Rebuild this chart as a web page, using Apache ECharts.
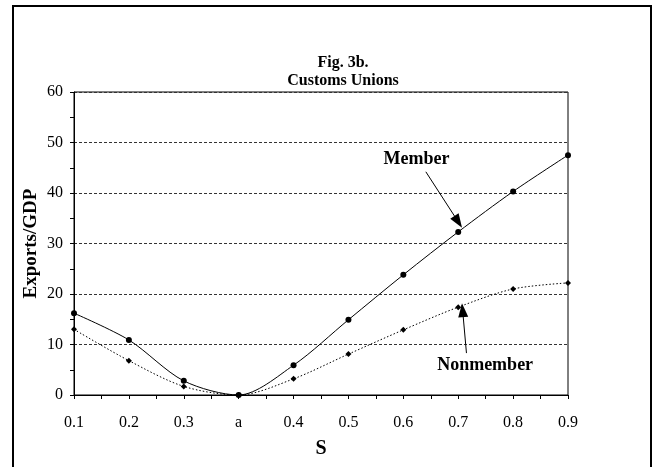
<!DOCTYPE html>
<html>
<head>
<meta charset="utf-8">
<script src="https://cdn.jsdelivr.net/npm/echarts@6/dist/echarts.min.js"></script>
<style>
  html, body { margin: 0; padding: 0; background: #fff; }
  #chart { width: 653px; height: 467px; }
</style>
</head>
<body>
<div id="chart"></div>
<script>
// x categories (S), with the "a" point between 0.3 and 0.4
const xLabels = ['0.1', '0.2', '0.3', 'a', '0.4', '0.5', '0.6', '0.7', '0.8', '0.9'];
const memberValues = [16.2, 10.9, 2.8, 0, 5.9, 14.9, 23.8, 32.3, 40.3, 47.5];
const nonmemberValues = [13.0, 6.8, 1.7, 0, 3.2, 8.1, 12.9, 17.4, 21.0, 22.2];

// annotation anchors, in data units (x = category index, y = Exports/GDP)
const memberArrow = [[6.41, 44.2], [7.0, 34.3]];
const nonmemberArrow = [[7.15, 8.3], [7.08, 16.8]];
const memberLabelAt = [6.24, 46.7];
const nonmemberLabelAt = [7.49, 5.9];

const FONT = 'Liberation Serif';

const toPairs = (vals) => vals.map((v, i) => [i, v]);

const arrowLine = (from, to) => ({
  silent: true,
  symbol: ['none', 'triangle'],
  symbolSize: [10, 14],
  lineStyle: { color: '#000', width: 1, type: 'solid' },
  label: { show: false },
  data: [[{ coord: from }, { coord: to }]]
});

const textPoint = (at, text) => ({
  silent: true,
  symbol: 'circle',
  symbolSize: 0,
  label: {
    show: true,
    position: 'inside',
    formatter: text,
    color: '#000',
    fontFamily: FONT,
    fontWeight: 'bold',
    fontSize: 18
  },
  data: [{ coord: at }]
});

const chart = echarts.init(document.getElementById('chart'));
chart.setOption({
  animation: false,
  backgroundColor: '#fff',
  title: {
    text: 'Fig. 3b.\nCustoms Unions',
    left: 338,
    top: 49,
    textAlign: 'center',
    textStyle: {
      fontFamily: FONT,
      fontWeight: 'bold',
      fontSize: 16,
      lineHeight: 18,
      color: '#000'
    }
  },
  graphic: [{
    type: 'rect',
    shape: { x: 13, y: 6, width: 638, height: 480 },
    style: { fill: 'none', stroke: '#000', lineWidth: 2 },
    silent: true
  }],
  grid: {
    left: 74, right: 85, top: 92, bottom: 72,
    show: true,
    borderColor: '#000',
    borderWidth: 1
  },
  xAxis: {
    type: 'value',
    min: 0,
    max: xLabels.length - 1,
    interval: 1,
    name: 'S',
    nameLocation: 'middle',
    nameGap: 44,
    nameMoveOverlap: false,
    nameTextStyle: { fontFamily: FONT, fontWeight: 'bold', fontSize: 20, color: '#000' },
    axisLine: { lineStyle: { color: '#000', width: 1 } },
    axisTick: { show: true, length: 4, lineStyle: { color: '#000' } },
    minorTick: { show: true, splitNumber: 2, length: 4, lineStyle: { color: '#000' } },
    axisLabel: {
      margin: 20,
      formatter: (v) => xLabels[v] || '',
      fontFamily: FONT,
      fontSize: 16,
      color: '#000'
    },
    splitLine: { show: false }
  },
  yAxis: {
    type: 'value',
    min: 0,
    max: 60,
    interval: 10,
    name: 'Exports/GDP',
    nameLocation: 'middle',
    nameGap: 33,
    nameMoveOverlap: false,
    nameTextStyle: { fontFamily: FONT, fontWeight: 'bold', fontSize: 19, color: '#000' },
    axisLine: { show: true, lineStyle: { color: '#000', width: 1 } },
    axisTick: { show: true, length: 4, lineStyle: { color: '#000' } },
    minorTick: { show: true, splitNumber: 2, length: 4, lineStyle: { color: '#000' } },
    axisLabel: { margin: 11, fontFamily: FONT, fontSize: 16, color: '#000' },
    splitLine: { show: true, lineStyle: { color: '#333', width: 1, type: [3, 2] } }
  },
  series: [
    {
      name: 'Nonmember',
      type: 'line',
      data: toPairs(nonmemberValues),
      smooth: 0.3,
      symbol: 'diamond',
      symbolSize: 6,
      itemStyle: { color: '#000' },
      lineStyle: { color: '#000', width: 1, type: [1.5, 2] },
      markLine: arrowLine(nonmemberArrow[0], nonmemberArrow[1]),
      markPoint: textPoint(nonmemberLabelAt, 'Nonmember')
    },
    {
      name: 'Member',
      type: 'line',
      data: toPairs(memberValues),
      smooth: 0.3,
      symbol: 'circle',
      symbolSize: 6,
      itemStyle: { color: '#000' },
      lineStyle: { color: '#000', width: 1 },
      markLine: arrowLine(memberArrow[0], memberArrow[1]),
      markPoint: textPoint(memberLabelAt, 'Member')
    }
  ]
});
</script>
</body>
</html>
